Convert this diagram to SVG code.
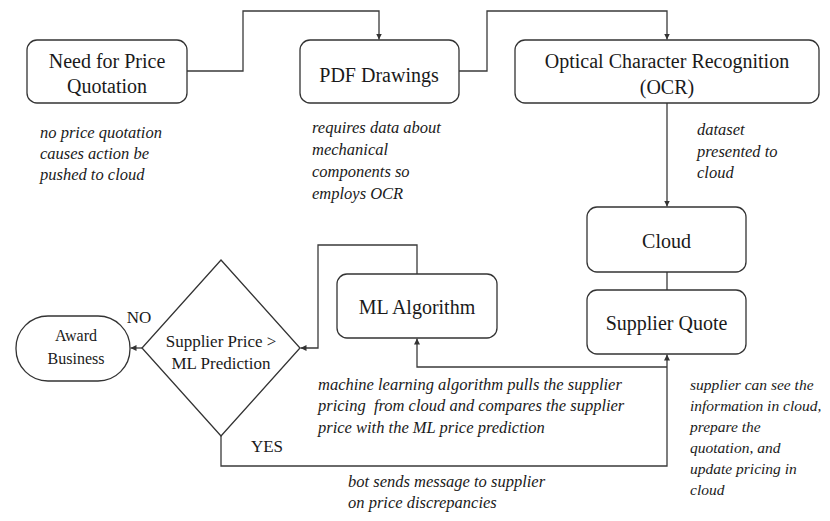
<svg xmlns="http://www.w3.org/2000/svg" width="830" height="521" viewBox="0 0 830 521">
<style>
.box{fill:#fff;stroke:#333;stroke-width:1.3}
.lbl{font-size:20px;fill:#1a1a1a;text-anchor:middle}
.sm{font-size:17px}
.note{font-size:16.5px;font-style:italic;fill:#1a1a1a;white-space:pre}
.nr{font-size:15.5px}
.con{fill:none;stroke:#3a3a3a;stroke-width:1.3}
</style>
<defs>
<marker id="ah" viewBox="0 0 10 10" refX="10" refY="5" markerWidth="6" markerHeight="6" markerUnits="userSpaceOnUse" orient="auto">
<path d="M0,0 L10,5 L0,10 z" fill="#333"/>
</marker>
</defs>
<rect width="830" height="521" fill="#fff"/>
<g id="connectors">
<path class="con" d="M187,71 H243 V11 H379 V39.5" marker-end="url(#ah)"/>
<path class="con" d="M459,71 H487 V11 H667 V39.5" marker-end="url(#ah)"/>
<path class="con" d="M667,103 V206.5" marker-end="url(#ah)"/>
<path class="con" d="M667,272 V290"/>
<path class="con" d="M417,274 V245 H318 V348 H300.5" marker-end="url(#ah)"/>
<path class="con" d="M221,436 V466 H667 V354.5" marker-end="url(#ah)"/>
<path class="con" d="M667,367 H417 V338.5" marker-end="url(#ah)"/>
<path class="con" d="M142,348 H130.5" marker-end="url(#ah)"/>
</g>
<g font-family="Liberation Serif, serif">
<g id="need">
<rect class="box" x="27" y="40" width="160" height="63" rx="10"/>
<text class="lbl" x="107" y="68">Need for Price</text>
<text class="lbl" x="107" y="93">Quotation</text>
</g>
<g id="pdf">
<rect class="box" x="300" y="40" width="159" height="63" rx="10"/>
<text class="lbl" x="379" y="82">PDF Drawings</text>
</g>
<g id="ocr">
<rect class="box" x="515" y="40" width="304" height="63" rx="10"/>
<text class="lbl" x="667" y="68">Optical Character Recognition</text>
<text class="lbl" x="667" y="94">(OCR)</text>
</g>
<g id="cloud">
<rect class="box" x="587" y="207" width="159" height="65" rx="10"/>
<text class="lbl" x="666.5" y="248">Cloud</text>
</g>
<g id="supplier-quote">
<rect class="box" x="587" y="290" width="159" height="64" rx="10"/>
<text class="lbl" x="666.5" y="330">Supplier Quote</text>
</g>
<g id="ml">
<rect class="box" x="337" y="274" width="160" height="64" rx="10"/>
<text class="lbl" x="417" y="314">ML Algorithm</text>
</g>
<g id="decision">
<polygon class="box" points="221,260 300,348 221,436 142,348"/>
<text class="lbl sm" x="221" y="347">Supplier Price &gt;</text>
<text class="lbl sm" x="221" y="369">ML Prediction</text>
</g>
<g id="award">
<rect class="box" x="16" y="316" width="114" height="65" rx="32" ry="32"/>
<text class="lbl" style="font-size:16px" x="76" y="341">Award</text>
<text class="lbl" style="font-size:16px" x="76" y="364">Business</text>
</g>
<g id="labels">
<text class="lbl sm" x="139" y="323">NO</text>
<text class="lbl sm" x="267" y="452">YES</text>
</g>
<g id="notes">
<text class="note" x="40" y="138">no price quotation</text>
<text class="note" x="40" y="159">causes action be</text>
<text class="note" x="40" y="180">pushed to cloud</text>
<text class="note" x="312" y="133">requires data about</text>
<text class="note" x="312" y="155">mechanical</text>
<text class="note" x="312" y="177">components so</text>
<text class="note" x="312" y="199">employs OCR</text>
<text class="note" x="697" y="135">dataset</text>
<text class="note" x="697" y="157">presented to</text>
<text class="note" x="697" y="178">cloud</text>
<text class="note" x="318" y="390">machine learning algorithm pulls the supplier</text>
<text class="note" x="318" y="411">pricing  from cloud and compares the supplier</text>
<text class="note" x="318" y="433">price with the ML price prediction</text>
<text class="note nr" x="690" y="390">supplier can see the</text>
<text class="note nr" x="690" y="411">information in cloud,</text>
<text class="note nr" x="690" y="432">prepare the</text>
<text class="note nr" x="690" y="453">quotation, and</text>
<text class="note nr" x="690" y="474">update pricing in</text>
<text class="note nr" x="690" y="495">cloud</text>
<text class="note" x="348" y="487">bot sends message to supplier</text>
<text class="note" x="348" y="508">on price discrepancies</text>
</g>
</g>
</svg>
